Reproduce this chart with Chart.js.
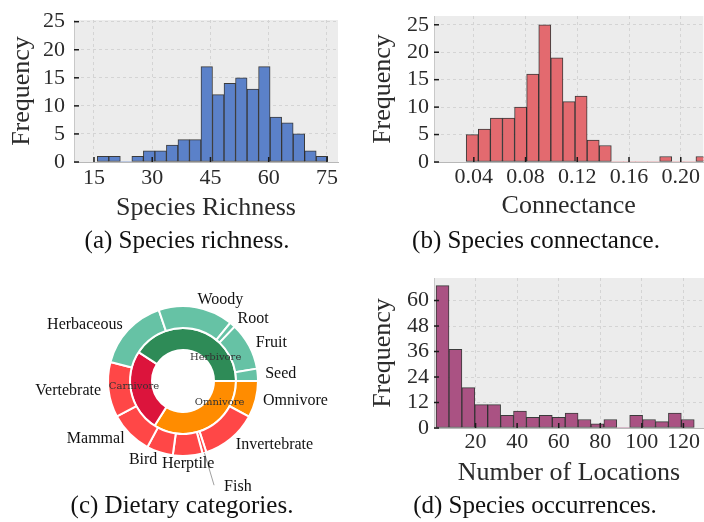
<!DOCTYPE html>
<html>
<head>
<meta charset="utf-8">
<script src="https://cdn.jsdelivr.net/npm/chart.js@4.4.1/dist/chart.umd.min.js"></script>
<style>
  body { margin: 0; background: #fff; width: 704px; height: 522px; position: relative; overflow: hidden; font-family: 'Liberation Serif', 'Times New Roman', serif; }
  canvas { position: absolute; }
  .cap { position: absolute; width: 320px; font-size: 25px; line-height: 25px; color: #111; text-align: center; white-space: nowrap; }
</style>
</head>
<body>
<canvas id="richness" width="352" height="230" style="left:0;top:0"></canvas>
<canvas id="connectance" width="352" height="230" style="left:352px;top:0"></canvas>
<canvas id="diet" width="366" height="238" style="left:0;top:262px"></canvas>
<canvas id="occurrence" width="352" height="230" style="left:352px;top:262px"></canvas>
<div class="cap" style="left:27px;top:227px">(a) Species richness.</div>
<div class="cap" style="left:376px;top:227px">(b) Species connectance.</div>
<div class="cap" style="left:22px;top:492px">(c) Dietary categories.</div>
<div class="cap" style="left:375px;top:492px">(d) Species occurrences.</div>
<script>
// (a) species richness histogram, 20 bins
const richnessCounts = [1, 1, 0, 1, 2, 2, 3, 4, 4, 17, 12, 14, 15, 13, 17, 8, 7, 5, 2, 1];
const richnessBinRange = [15.85, 75.2];
const richnessTicksX = [15, 30, 45, 60, 75];
const richnessTicksY = [0, 5, 10, 15, 20, 25];

// (b) connectance histogram, 20 bins
const connectanceCounts = [5, 6, 8, 8, 10, 16, 25, 19, 11, 12, 4, 3, 0, 0, 0, 0, 1, 0, 0, 1];
const connectanceBinRange = [0.0341, 0.2211];
const connectanceTicksX = [0.04, 0.08, 0.12, 0.16, 0.20];
const connectanceTicksY = [0, 5, 10, 15, 20, 25];

// (d) occurrences histogram, 20 bins
const occurrenceCounts = [67, 37, 19, 11, 11, 6, 8, 5, 6, 5, 7, 4, 2, 4, 0, 6, 4, 3, 7, 4];
const occurrenceBinRange = [1, 125.2];
const occurrenceTicksX = [20, 40, 60, 80, 100, 120];
const occurrenceTicksY = [0, 12, 24, 36, 48, 60];

// (c) diet rings, counter-clockwise from 3 o'clock (shares in degrees of arc)
const dietCategories = ['Herbivore', 'Carnivore', 'Omnivore'];
const dietShares = [147, 90.5, 122.5];
const dietSubcategories = ['Seed', 'Fruit', 'Root', 'Woody', 'Herbaceous', 'Vertebrate', 'Mammal', 'Bird', 'Herptile', 'Fish', 'Invertebrate', 'Omnivore'];
const dietSubGroups = ['Herbivore', 'Herbivore', 'Herbivore', 'Herbivore', 'Herbivore', 'Carnivore', 'Carnivore', 'Carnivore', 'Carnivore', 'Carnivore', 'Carnivore', 'Omnivore'];
const dietSubShares = [9.5, 37, 4.5, 58, 56.5, 43, 33.5, 20.5, 23, 3, 43.5, 28.5];

const SERIF = "'Liberation Serif', 'Times New Roman', serif";
const INK = '#2b2b2b';
const CAT_COLORS = { Herbivore: '#2e8b57', Carnivore: '#dc143c', Omnivore: '#ff8c00' };
const SUB_COLORS = { Herbivore: '#66c2a5', Carnivore: '#ff4747', Omnivore: '#ff8c00' };

// grey panel + inward tick marks
const plotFrame = {
  id: 'plotFrame',
  beforeDraw(chart) {
    const { ctx, chartArea: a } = chart;
    ctx.save();
    ctx.fillStyle = '#ececec';
    ctx.fillRect(a.left, a.top, a.right - a.left, a.bottom - a.top);
    ctx.restore();
  },
  afterDatasetsDraw(chart) {
    const { ctx, chartArea: a, scales: { x, y } } = chart;
    ctx.save();
    ctx.strokeStyle = '#1a1a1a';
    ctx.lineWidth = 1.5;
    x.ticks.forEach(t => {
      const px = x.getPixelForValue(t.value);
      ctx.beginPath(); ctx.moveTo(px, a.bottom); ctx.lineTo(px, a.bottom - 5); ctx.stroke();
    });
    y.ticks.forEach(t => {
      const py = y.getPixelForValue(t.value);
      ctx.beginPath(); ctx.moveTo(a.left, py); ctx.lineTo(a.left + 5, py); ctx.stroke();
    });
    ctx.restore();
  }
};

function histogram(id, counts, binRange, xTicks, yTicks, cfg) {
  const w = (binRange[1] - binRange[0]) / counts.length;
  const points = counts.map((c, i) => ({ x: binRange[0] + w * (i + 0.5), y: c }));
  const tickFont = { family: SERIF, size: 22, lineHeight: 1 };
  const titleFont = { family: SERIF, size: 26, lineHeight: 1 };
  return new Chart(document.getElementById(id), {
    type: 'bar',
    data: {
      datasets: [{
        data: points,
        backgroundColor: cfg.color,
        borderColor: 'rgba(28,28,28,0.85)',
        borderWidth: ctx => (ctx.raw && ctx.raw.y > 0 ? 1 : 0),
        borderSkipped: false,
        barPercentage: 1,
        categoryPercentage: 1
      }]
    },
    options: {
      responsive: false,
      animation: false,
      events: [],
      layout: { padding: cfg.padding },
      plugins: { legend: { display: false }, tooltip: { enabled: false } },
      scales: {
        x: {
          type: 'linear',
          offset: false,
          min: cfg.xRange[0],
          max: cfg.xRange[1],
          afterBuildTicks: s => { s.ticks = xTicks.map(v => ({ value: v })); },
          afterFit: s => { s.height = cfg.xHeight; },
          ticks: { font: tickFont, color: INK, padding: cfg.xPad, maxRotation: 0, autoSkip: false, callback: cfg.fmt || (v => String(v)) },
          grid: { color: '#d4d4d4', lineWidth: 1, drawTicks: false, offset: false },
          border: { display: true, color: '#b8b8b8', width: 1, dash: [3, 3] },
          title: { display: true, text: cfg.xTitle, font: titleFont, color: INK, padding: { top: 0, bottom: cfg.xTitlePad } }
        },
        y: {
          min: 0,
          max: cfg.yMax,
          afterBuildTicks: s => { s.ticks = yTicks.map(v => ({ value: v })); },
          afterFit: s => { s.width = cfg.yWidth; },
          ticks: { font: tickFont, color: INK, padding: cfg.yPad, autoSkip: false },
          grid: { color: '#d4d4d4', lineWidth: 1, drawTicks: false },
          border: { display: true, color: '#c8c8c8', width: 1, dash: [3, 3] },
          title: { display: true, text: 'Frequency', font: titleFont, color: INK, padding: { top: cfg.yTitlePad, bottom: 0 } }
        }
      }
    },
    plugins: [plotFrame]
  });
}

histogram('richness', richnessCounts, richnessBinRange, richnessTicksX, richnessTicksY, {
  color: '#5b81c9', xRange: [9.85, 77.85], yMax: 25.3, xTitle: 'Species Richness',
  padding: { top: 17.5, right: 14, bottom: 0, left: 0 },
  xHeight: 68, yWidth: 74, xPad: 5, yPad: 9, xTitlePad: 9, yTitlePad: 9.5
});

histogram('connectance', connectanceCounts, connectanceBinRange, connectanceTicksX, connectanceTicksY, {
  color: '#e36a6f', xRange: [0.0092, 0.2175], yMax: 26.6, xTitle: 'Connectance',
  padding: { top: 9.5, right: 0, bottom: 0, left: 0 },
  xHeight: 68, yWidth: 82, xPad: 4, yPad: 5, xTitlePad: 11, yTitlePad: 18,
  fmt: v => v.toFixed(2)
});

histogram('occurrence', occurrenceCounts, occurrenceBinRange, occurrenceTicksX, occurrenceTicksY, {
  color: '#aa5283', xRange: [0, 129.9], yMax: 70.6, xTitle: 'Number of Locations',
  padding: { top: 14, right: 0, bottom: 0, left: 0 },
  xHeight: 64, yWidth: 82, xPad: 3.5, yPad: 5, xTitlePad: 6, yTitlePad: 18
});

// labels around / inside the rings
const ringLabels = {
  id: 'ringLabels',
  afterDatasetsDraw(chart) {
    const ctx = chart.ctx;
    ctx.save();
    ctx.textBaseline = 'middle';
    chart.data.datasets.forEach((ds, di) => {
      chart.getDatasetMeta(di).data.forEach((arc, i) => {
        const { x, y, startAngle, endAngle, outerRadius } =
          arc.getProps(['x', 'y', 'startAngle', 'endAngle', 'outerRadius'], true);
        const mid = (startAngle + endAngle) / 2;
        const c = Math.cos(mid), s = Math.sin(mid);
        if (di === 0) {
          ctx.font = '16px ' + SERIF;
          ctx.fillStyle = '#111';
          if (endAngle - startAngle < 0.07) {
            // thin slice: pull the label out with a leader line
            const r1 = outerRadius * 1.45;
            ctx.strokeStyle = '#888';
            ctx.lineWidth = 0.8;
            ctx.beginPath();
            ctx.moveTo(x + c * outerRadius, y + s * outerRadius);
            ctx.lineTo(x + c * r1, y + s * r1);
            ctx.stroke();
            ctx.textAlign = 'left';
            ctx.fillText(ds.names[i], x + c * r1 + 10, y + s * r1 + 2);
          } else {
            const r = outerRadius * 1.1;
            ctx.textAlign = Math.abs(c) < 0.1 ? 'center' : (c > 0 ? 'left' : 'right');
            ctx.fillText(ds.names[i], x + c * r, y + s * r);
          }
        } else {
          ctx.font = "10px 'DejaVu Serif', serif";
          ctx.fillStyle = '#333';
          const r = outerRadius * 0.46;
          ctx.textAlign = c > 0 ? 'left' : 'right';
          ctx.fillText(ds.names[i], x + c * r, y + s * r);
        }
      });
    });
    ctx.restore();
  }
};

// Chart.js runs clockwise, so feed the rings reversed starting at 3 o'clock
new Chart(document.getElementById('diet'), {
  type: 'doughnut',
  data: {
    datasets: [
      {
        data: dietSubShares.slice().reverse(),
        names: dietSubcategories.slice().reverse(),
        backgroundColor: dietSubGroups.map(g => SUB_COLORS[g]).reverse(),
        borderColor: '#fff',
        borderWidth: 2
      },
      {
        data: dietShares.slice().reverse(),
        names: dietCategories.slice().reverse(),
        backgroundColor: dietCategories.map(g => CAT_COLORS[g]).reverse(),
        borderColor: '#fff',
        borderWidth: 2
      }
    ]
  },
  options: {
    responsive: false,
    animation: false,
    events: [],
    rotation: 90,
    radius: 75,
    cutout: '41.3%',
    layout: { padding: 0 },
    plugins: { legend: { display: false }, tooltip: { enabled: false } }
  },
  plugins: [ringLabels]
});
</script>
</body>
</html>
